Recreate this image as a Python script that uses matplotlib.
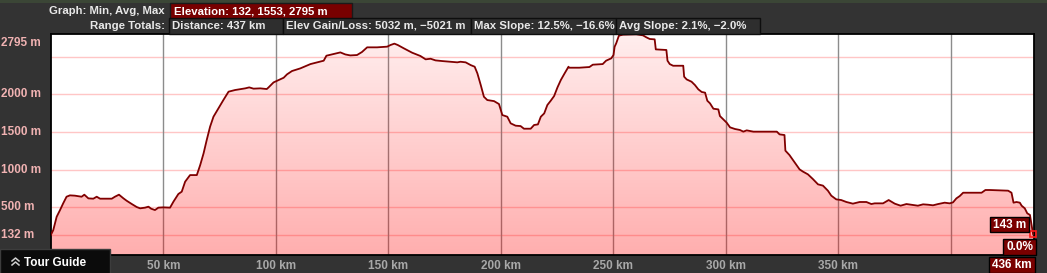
import matplotlib.pyplot as plt
import matplotlib.patches as patches
from matplotlib.lines import Line2D
import numpy as np

plt.rcParams['font.family'] = ['Liberation Sans', 'DejaVu Sans']

# elevation profile
dist_km = [0, 1.1, 2.6, 4.1, 5.5, 7.0, 8.5, 10.7, 13.7, 14.9, 16.7, 18.9, 20.4, 21.9, 27.1,
           28.5, 30.3, 32.3, 33.7, 36.0, 38.2, 39.7, 41.9, 43.4, 44.6, 46.3, 47.8, 50.0, 53.0,
           54.5, 56.7, 58.2, 59.7, 61.9, 64.9, 66.4, 67.9, 69.3, 70.8, 72.3, 74.5, 76.7, 79.0,
           81.9, 86.4, 88.2, 90.1, 93.1, 96.0, 96.8, 99.0, 103.5, 105.0, 107.2, 110.9, 115.4,
           121.3, 122.5, 125.7, 128.7, 130.9, 133.1, 136.1, 138.3, 140.6, 145.0, 149.5, 151.0,
           152.7, 154.2, 156.9, 160.6, 164.3, 166.6, 168.8, 171.0, 174.0, 177.7, 180.7, 182.1,
           184.4, 186.6, 188.4, 189.6, 191.1, 192.5, 194.0, 197.0, 199.2, 200.7, 202.9, 204.4,
           206.6, 208.8, 210.3, 213.3, 214.8, 216.5, 217.8, 219.3, 220.7, 222.2, 223.7, 225.2,
           226.7, 228.2, 230.1, 230.4, 234.9, 239.4, 240.9, 245.3, 246.8, 249.1, 250.1, 250.6,
           251.3, 252.5, 254.3, 260.2, 263.2, 264.7, 266.2, 268.4, 268.9, 273.6, 274.1, 275.1,
           276.6, 281.1, 281.5, 282.6, 284.8, 286.3, 287.8, 289.3, 290.8, 291.8, 293.0, 294.5,
           296.7, 297.4, 298.9, 300.4, 301.9, 304.1, 306.3, 307.8, 309.3, 312.3, 322.7, 323.9,
           326.1, 326.5, 328.3, 330.6, 332.8, 334.3, 336.5, 338.7, 341.0, 343.2, 345.4, 346.9,
           349.1, 351.3, 353.6, 356.5, 359.5, 362.5, 364.7, 366.2, 369.9, 372.4, 375.1, 377.7,
           380.3, 382.5, 385.4, 387.7, 389.9, 392.1, 394.4, 397.3, 399.5, 401.0, 402.5, 404.0,
           405.5, 413.7, 415.4, 417.4, 425.5, 427.0, 427.9, 429.2, 430.7, 431.5, 432.9, 434.0,
           435.2, 436.0, 436.6]
elev_m = [132, 199, 375, 464, 553, 641, 659, 655, 641, 668, 619, 615, 641, 615, 615,
          641, 668, 619, 588, 544, 504, 487, 496, 509, 482, 464, 496, 500, 496,
          575, 677, 708, 840, 928, 928, 1061, 1216, 1393, 1570, 1702, 1813, 1923, 2034,
          2056, 2078, 2091, 2074, 2078, 2069, 2091, 2157, 2219, 2264, 2308, 2343, 2400,
          2445, 2511, 2533, 2555, 2528, 2515, 2520, 2560, 2622, 2622, 2631, 2653,
          2671, 2653, 2609, 2551, 2507, 2463, 2471, 2449, 2440, 2431, 2423, 2431,
          2423, 2387, 2365, 2277, 2122, 1967, 1923, 1909, 1870, 1724, 1702, 1614,
          1583, 1578, 1543, 1543, 1592, 1600, 1702, 1746, 1857, 1914, 1976, 2091,
          2189, 2268, 2365, 2352, 2352, 2361, 2392, 2400, 2445, 2476, 2520, 2630,
          2675, 2777, 2790, 2795, 2781, 2755, 2733, 2728, 2595, 2587, 2445, 2400,
          2378, 2378, 2233, 2197, 2166, 2122, 2065, 2030, 2021, 1914, 1879, 1808,
          1799, 1711, 1667, 1623, 1561, 1539, 1526, 1504, 1521, 1504, 1504, 1468,
          1459, 1252, 1194, 1097, 1004, 974, 938, 876, 805, 788, 721, 655,
          606, 597, 571, 549, 571, 571, 544, 553, 553, 597, 549, 522,
          544, 535, 522, 540, 535, 527, 544, 562, 553, 566, 619, 650,
          694, 694, 730, 730, 721, 694, 562, 571, 562, 522, 487, 421,
          399, 250, 143]

y_ticks = [132, 500, 1000, 1500, 2000, 2795]
y_labels = ['132 m', '500 m', '1000 m', '1500 m', '2000 m', '2795 m']
y_grid = [132, 500, 1000, 1500, 2000, 2500]
x_ticks = [50, 100, 150, 200, 250, 300, 350, 400]
x_labels = ['50 km', '100 km', '150 km', '200 km', '250 km', '300 km', '350 km', '']

graph_caption = 'Graph: Min, Avg, Max'
graph_value = 'Elevation: 132, 1553, 2795 m'
totals_caption = 'Range Totals:'
totals = ['Distance: 437 km', 'Elev Gain/Loss: 5032 m, \u22125021 m',
          'Max Slope: 12.5%, \u221216.6%', 'Avg Slope: 2.1%, \u22122.0%']
end_labels = ['143 m', '0.0%', '436 km']

W, H = 1047, 273
fs = 8.5
fig = plt.figure(figsize=(W / 100, H / 100), dpi=100, facecolor='#333333')


def fpos(x, y):
    return (x / W, 1 - y / H)


def box(x0, y0, x1, y1, fc, ec, lw=1.0):
    r = patches.Rectangle(fpos(x0, y1), (x1 - x0) / W, (y1 - y0) / H,
                          transform=fig.transFigure, fc=fc, ec=ec, lw=lw)
    fig.add_artist(r)


def ftext(x, y, s, color='#e8e8e8', ha='left', size=fs):
    fig.text(*fpos(x, y), s, color=color, ha=ha, va='center',
             fontsize=size, fontweight='bold')


# strip of map at the very top
box(0, 0, W, 3, '#3b4636', 'none', 0)

ax = fig.add_axes([50.8 / W, 18 / H, (1034 - 50.8) / W, (255 - 34.3) / H])
ax.set_facecolor('white')

for y in y_grid:
    ax.axhline(y, color='#ffc6c6', lw=1.0, zorder=1)
for x in x_ticks:
    ax.axvline(x, color='#8c8c8c', lw=1.0, zorder=1)

fill = ax.fill_between(dist_km, elev_m, -132, color='none', lw=0)
alpha = np.linspace(0.32, 0.07, 256)
grad = np.zeros((256, 1, 4))
grad[..., 0] = 1.0
grad[..., 3] = alpha[:, None]
im = ax.imshow(grad, extent=[0, 437, -132, 2795], origin='lower', aspect='auto',
               zorder=2, interpolation='bilinear')
im.set_clip_path(fill.get_paths()[0], ax.transData)

ax.plot(dist_km, elev_m, color='#800000', lw=1.3, zorder=3)
ax.plot([dist_km[-1]], [elev_m[-1]], 's', ms=5, mfc='none', mec='#ff1a1a', mew=1.2,
        zorder=5, clip_on=False)

ax.set_xlim(0, 437)
ax.set_ylim(-132, 2795)
ax.set_xticks(x_ticks, x_labels)
ax.set_yticks([])
ax.tick_params(axis='x', length=0, pad=3.5, colors='#a8a8a8', labelsize=fs)
for lab in ax.get_xticklabels():
    lab.set_fontweight('bold')
for sp in ax.spines.values():
    sp.set_color('black')
    sp.set_linewidth(1.3)

for v, s in zip(y_ticks, y_labels):
    dy = -6.5 if v == y_ticks[-1] else 0
    ax.annotate(s, xy=(1, v), xycoords=('figure pixels', 'data'), xytext=(0, dy),
                textcoords='offset points', ha='left', va='center', color='#f0b2b2',
                fontsize=fs, fontweight='bold', annotation_clip=False)

# header
hs = 8.2
ftext(165, 11.5, graph_caption, ha='right', size=hs)
box(170, 3, 352, 20, '#780000', '#1a1a1a')
ftext(174, 11.5, graph_value, color='white', size=hs)
ftext(165, 26, totals_caption, ha='right', size=hs)
edges = [169, 283, 471, 616, 760]
for i, s in enumerate(totals):
    box(edges[i], 18, edges[i + 1], 33.5, '#2e2e2e', '#0e0e0e')
    ftext(edges[i] + 3, 26, s, size=hs)

# tour guide tab
box(0, 249, 110, 274, '#0b0b0b', '#3c3c3c')
for y0 in (258, 262):
    fig.add_artist(Line2D([12 / W, 15.5 / W, 19 / W], [1 - (y0 + 3) / H, 1 - y0 / H, 1 - (y0 + 3) / H],
                          transform=fig.transFigure, color='#d0d0d0', lw=1.1))
ftext(24, 263, 'Tour Guide', color='white')

# end-of-range labels
for (x0, y0, x1, y1), s in zip([(990, 217, 1029, 232), (1003, 239, 1036, 255), (989, 257, 1035, 273)],
                               end_labels):
    box(x0, y0, x1, y1, '#7a0000', '#000000')
    ftext((x0 + x1) / 2, (y0 + y1) / 2 + 0.5, s, color='white', ha='center')

fig.savefig('out.png', dpi=100, facecolor=fig.get_facecolor())
